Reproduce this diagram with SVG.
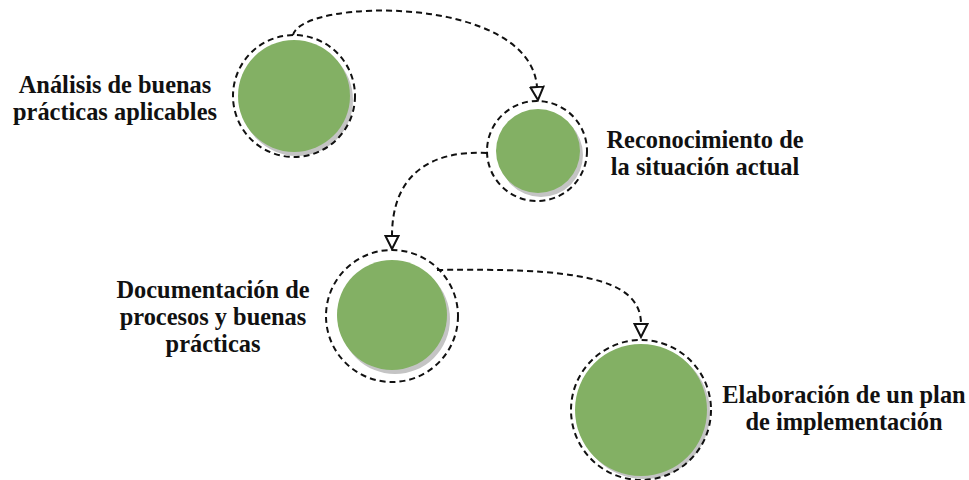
<svg xmlns="http://www.w3.org/2000/svg" width="969" height="480" viewBox="0 0 969 480">
  <style>
    .shadow { fill: #c4c4c4; }
    .disc { fill: #83b064; }
    .ring { fill: none; stroke: #111; stroke-width: 2; stroke-dasharray: 6 4; }
    .link { fill: none; stroke: #111; stroke-width: 2; stroke-dasharray: 6 4; }
    .label { font-family: "Liberation Serif", "Times New Roman", serif; font-weight: bold; font-size: 24.4px; fill: #111; text-anchor: middle; }
  </style>
  <defs>
    <marker id="openArrow" viewBox="0 0 16 16" markerWidth="16" markerHeight="16" refX="1" refY="8" orient="auto" markerUnits="userSpaceOnUse">
      <path d="M1,1.5 L14,8 L1,14.5 Z" fill="#fff" stroke="#111" stroke-width="2" stroke-linejoin="miter"/>
    </marker>
  </defs>
  <rect width="969" height="480" fill="#fff"/>

  <g id="connectors">
    <path class="link" d="M293,35 C302,-2 530,-6 537,87" marker-end="url(#openArrow)"/>
    <path class="link" d="M487,153 C430,150 392,175 392,236" marker-end="url(#openArrow)"/>
    <path class="link" d="M437,270 C570,268 641,276 641,324" marker-end="url(#openArrow)"/>
  </g>

  <g id="node-analisis">
    <circle class="shadow" cx="297" cy="100" r="56"/>
    <circle class="disc" cx="294" cy="96" r="56"/>
    <circle class="ring" cx="294" cy="96" r="61"/>
    <text class="label" x="115" y="93">Análisis de buenas</text>
    <text class="label" x="115" y="120">prácticas aplicables</text>
  </g>

  <g id="node-reconocimiento">
    <circle class="shadow" cx="541" cy="155" r="42"/>
    <circle class="disc" cx="538" cy="151" r="42"/>
    <circle class="ring" cx="537" cy="151" r="50"/>
    <text class="label" x="705" y="148">Reconocimiento de</text>
    <text class="label" x="705" y="175">la situación actual</text>
  </g>

  <g id="node-documentacion">
    <circle class="shadow" cx="395" cy="319" r="55"/>
    <circle class="disc" cx="392" cy="315" r="55"/>
    <circle class="ring" cx="392" cy="316" r="66"/>
    <text class="label" x="213" y="298">Documentación de</text>
    <text class="label" x="213" y="325">procesos y buenas</text>
    <text class="label" x="213" y="352">prácticas</text>
  </g>

  <g id="node-elaboracion">
    <circle class="shadow" cx="644" cy="413" r="66"/>
    <circle class="disc" cx="641" cy="410" r="66"/>
    <circle class="ring" cx="641" cy="410" r="70"/>
    <text class="label" x="844" y="403">Elaboración de un plan</text>
    <text class="label" x="844" y="430">de implementación</text>
  </g>
</svg>
